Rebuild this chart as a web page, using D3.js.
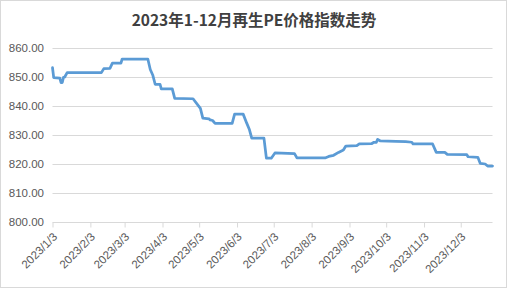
<!DOCTYPE html>
<html><head><meta charset="utf-8">
<script src="https://cdn.jsdelivr.net/npm/d3@7"></script>
<style>html,body{margin:0;padding:0;background:#fff;}svg{display:block;}</style>
</head><body>
<svg id="c" width="508" height="289"></svg>
<script>
const title = "2023年1-12月再生PE价格指数走势";
const dates = ["2023-01-03","2023-01-04","2023-01-09","2023-01-10","2023-01-11","2023-01-12","2023-01-13","2023-01-15",
"2023-02-12","2023-02-14","2023-02-19","2023-02-21","2023-02-28","2023-03-01","2023-03-22","2023-03-24","2023-03-26",
"2023-03-28","2023-04-01","2023-04-02","2023-04-11","2023-04-13","2023-04-28","2023-05-04","2023-05-06","2023-05-11",
"2023-05-12","2023-05-14","2023-05-16","2023-05-30","2023-06-01","2023-06-08","2023-06-11","2023-06-13","2023-06-15",
"2023-06-25","2023-06-27","2023-07-01","2023-07-04","2023-07-20","2023-07-22","2023-08-14","2023-08-17","2023-08-21",
"2023-08-25","2023-08-29","2023-08-31","2023-09-09","2023-09-11","2023-09-21","2023-09-23","2023-09-25","2023-09-26",
"2023-09-28","2023-10-11","2023-10-19","2023-10-24","2023-10-25","2023-11-10","2023-11-13","2023-11-20","2023-11-22",
"2023-12-08","2023-12-09","2023-12-17","2023-12-19","2023-12-23","2023-12-25","2023-12-29"];
const values = [853.2,849.8,849.6,848.1,848.1,849.9,850.0,851.5,
851.5,852.9,853.0,854.8,854.8,856.2,856.2,852.6,850.7,
847.5,847.5,845.9,845.9,842.6,842.5,839.2,835.8,835.6,
835.2,835.0,834.0,834.0,837.2,837.2,834.0,832.0,828.9,
828.9,822.0,822.0,823.8,823.6,822.1,822.1,822.6,823.0,
824.0,824.8,826.2,826.3,826.9,827.0,827.5,827.5,828.5,
828.0,827.8,827.7,827.5,826.9,826.9,824.0,824.0,823.3,
823.2,822.5,822.3,820.2,820.0,819.3,819.3];
const yTicks = [800,810,820,830,840,850,860];
const xTickDates = ["2023-01-03","2023-02-03","2023-03-03","2023-04-03","2023-05-03","2023-06-03",
"2023-07-03","2023-08-03","2023-09-03","2023-10-03","2023-11-03","2023-12-03"];

const parse = d3.timeParse("%Y-%m-%d");
const data = dates.map((d,i)=>({date:parse(d), v:values[i]}));
const svg = d3.select("#c");
const L=52.5, R=492.5, T=48, B=222;
const x = d3.scaleTime().domain([parse("2023-01-03"), parse("2023-12-29")]).range([L,R]);
const y = d3.scaleLinear().domain([800,860]).range([B,T]);

svg.append("rect").attr("x",0.5).attr("y",0.5).attr("width",506).attr("height",287)
  .attr("fill","#fff").attr("stroke","#d9d9d9");

svg.append("text").attr("x",254).attr("y",26).attr("text-anchor","middle")
  .attr("font-family","'Noto Sans CJK SC', sans-serif").attr("font-weight","bold")
  .attr("font-size",15.5).attr("fill","#404040").text(title);

// grid
svg.append("g").selectAll("line").data(yTicks.filter(t=>t>800)).join("line")
  .attr("x1",L).attr("x2",R).attr("y1",d=>Math.round(y(d))+0.5).attr("y2",d=>Math.round(y(d))+0.5)
  .attr("stroke","#d9d9d9").attr("stroke-width",1);

// y labels
svg.append("g").selectAll("text").data(yTicks).join("text")
  .attr("x",44).attr("y",d=>y(d)).attr("dy","0.35em").attr("text-anchor","end")
  .attr("font-family","'Liberation Sans', Arial, sans-serif").attr("font-size",11.5).attr("fill","#595959")
  .text(d=>d3.format(".2f")(d));

// x axis
const xa = d3.axisBottom(x).tickValues(xTickDates.map(parse)).tickSize(5)
  .tickFormat(d=>`${d.getFullYear()}/${d.getMonth()+1}/${d.getDate()}`);
const gx = svg.append("g").attr("transform",`translate(0,${Math.round(B)+0.5})`).call(xa);
gx.select(".domain").attr("stroke","#d9d9d9").attr("d",`M${L},0H${R}`);
gx.selectAll(".tick line").attr("stroke","#d9d9d9");
gx.selectAll(".tick text").attr("font-family","'Liberation Sans', Arial, sans-serif").attr("font-size",11.5)
  .attr("fill","#595959").attr("text-anchor","end").attr("dy",0).attr("y",0)
  .attr("transform","translate(5,15) rotate(-45)");

// line
svg.append("path").datum(data)
  .attr("d", d3.line().x(d=>x(d.date)).y(d=>y(d.v)))
  .attr("fill","none").attr("stroke","#5b9bd5").attr("stroke-width",2.75)
  .attr("stroke-linejoin","round").attr("stroke-linecap","round");
</script>
</body></html>
